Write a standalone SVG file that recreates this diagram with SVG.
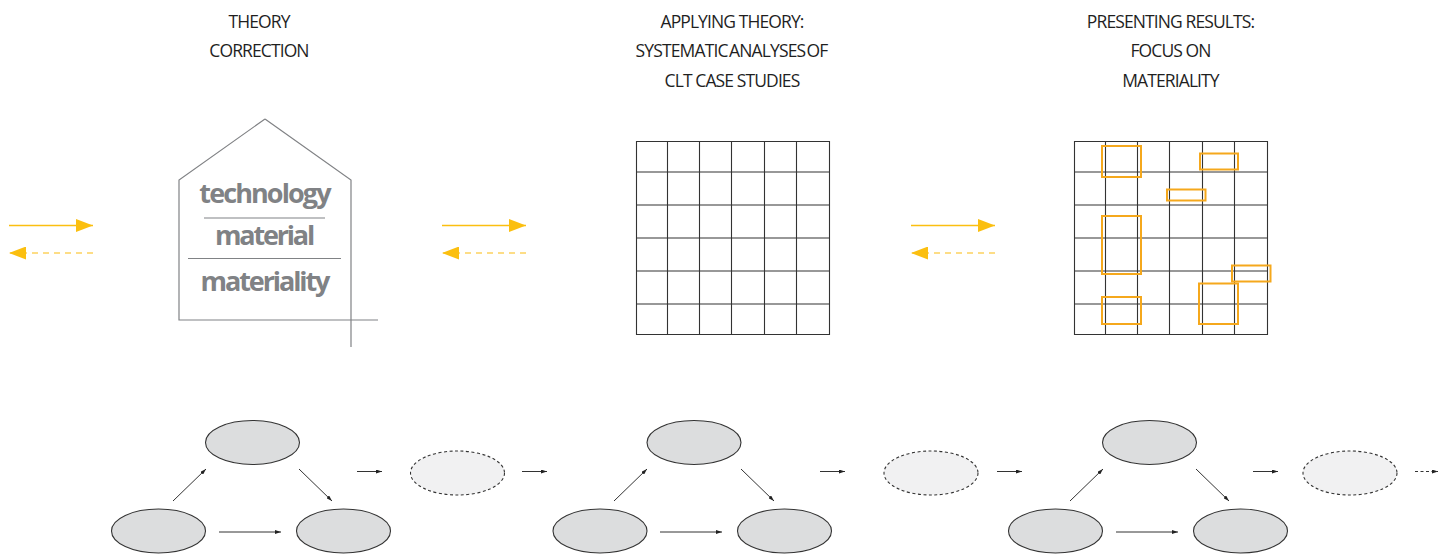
<svg xmlns="http://www.w3.org/2000/svg" width="1448" height="554" viewBox="0 0 1448 554">
<style>
.h{font-family:"Open Sans","Noto Sans",sans-serif;font-size:17.500px;fill:#1f1f1f;text-anchor:middle;letter-spacing:-0.9px}
.w{font-family:"Open Sans","Noto Sans",sans-serif;font-size:27px;font-weight:700;fill:#808285;text-anchor:middle;letter-spacing:-1.9px}
.g{fill:none;stroke:#333;stroke-width:1.1}
.o{fill:none;stroke:#f5a81c;stroke-width:2}
.e{fill:#dcddde;stroke:#333;stroke-width:1.1}
.d{fill:#f1f1f2;stroke:#333;stroke-width:1.1;stroke-dasharray:3 2.5}
.c{fill:none;stroke:#333;stroke-width:1;marker-end:url(#k)}
.y{fill:none;stroke:#fbbf10;stroke-width:1.4;marker-end:url(#a)}
.yd{fill:none;stroke:#fdd25f;stroke-width:1.4;stroke-dasharray:6 5;marker-end:url(#a)}
.hs{fill:none;stroke:#808285;stroke-width:1.2}
</style>
<defs>
<marker id="k" markerUnits="userSpaceOnUse" markerWidth="6" markerHeight="4" refX="6" refY="2" orient="auto"><path d="M0 0L6 2L0 4Z" fill="#222"/></marker>
<marker id="a" markerUnits="userSpaceOnUse" markerWidth="17" markerHeight="13" refX="17" refY="6.5" orient="auto"><path d="M0 0L17 6.5L0 13Z" fill="#fbbf10"/></marker>
<path id="grid" d="M0.5 0V194M31.500 0V194M63.500 0V194M95.500 0V194M128.500 0V194M160.500 0V194M193.500 0V194M0 0.500H194M0 31H194M0 64H194M0 97H194M0 130H194M0 163H194M0 193.500H194"/>
</defs>

<g id="title-1"><text class="h" x="259" y="27.500">THEORY</text><text class="h" x="259" y="56.500">CORRECTION</text></g>
<g id="title-2"><text class="h" x="732" y="27.500">APPLYING THEORY:</text><text class="h" x="731.500" y="56.500" style="word-spacing:-2.400px;letter-spacing:-0.85px">SYSTEMATIC ANALYSES OF</text><text class="h" x="732" y="86.500">CLT CASE STUDIES</text></g>
<g id="title-3"><text class="h" x="1170.500" y="27.500">PRESENTING RESULTS:</text><text class="h" x="1170.500" y="56.500">FOCUS ON</text><text class="h" x="1170.500" y="86.500">MATERIALITY</text></g>

<g id="house">
<path class="hs" d="M265 119L351 180V347M265 119L179 180V320H378"/>
<path class="hs" d="M204 218H325M188 258.500H341"/>
<text class="w" x="264.500" y="203">technology</text>
<text class="w" x="264" y="245" style="letter-spacing:-2.200px">material</text>
<text class="w" x="264.500" y="291" style="letter-spacing:-2.100px">materiality</text>
</g>

<g id="grid-2"><use href="#grid" class="g" x="636" y="141"/></g>
<g id="grid-3"><use href="#grid" class="g" x="1074" y="141"/>
<rect class="o" x="1102" y="146" width="39" height="31"/>
<rect class="o" x="1200" y="153.500" width="38" height="16"/>
<rect class="o" x="1167" y="189.500" width="38.500" height="11"/>
<rect class="o" x="1102" y="216" width="39" height="58"/>
<rect class="o" x="1232" y="265.500" width="38.500" height="16"/>
<rect class="o" x="1199" y="283.500" width="39" height="40.500"/>
<rect class="o" x="1102" y="297" width="39" height="27"/>
</g>

<g id="connectors">
<path class="y" d="M9 225.500H93"/><path class="yd" d="M93 253H9"/>
<path class="y" d="M442 225.500H526"/><path class="yd" d="M526 253H442"/>
<path class="y" d="M911 225.500H995"/><path class="yd" d="M995 253H911"/>
<path class="c" d="M173 501L206 469"/><path class="c" d="M299 469L332 501"/><path class="c" d="M219 532H281"/>
<path class="c" d="M357 471.500H382"/><path class="c" d="M522 471.500H547"/>
<path class="c" d="M614 501L647 469"/><path class="c" d="M741 469L774 501"/><path class="c" d="M660 532H722"/>
<path class="c" d="M820 471.500H845"/><path class="c" d="M997 471.500H1022"/>
<path class="c" d="M1070 501L1103 469"/><path class="c" d="M1196 469L1229 501"/><path class="c" d="M1116 532H1178"/>
<path class="c" d="M1253 471.500H1278"/><path class="c" stroke-dasharray="3 2.500" d="M1415 471.500H1438"/>
</g>

<g id="a1"><ellipse class="e" cx="252.500" cy="442.500" rx="47" ry="22"/></g>
<g id="b1"><ellipse class="e" cx="158.500" cy="531" rx="47" ry="22"/></g>
<g id="c1"><ellipse class="e" cx="343.500" cy="531" rx="47" ry="22"/></g>
<g id="d1"><ellipse class="d" cx="457.500" cy="473" rx="47" ry="22"/></g>
<g id="a2"><ellipse class="e" cx="694" cy="442.500" rx="47" ry="22"/></g>
<g id="b2"><ellipse class="e" cx="600" cy="531" rx="47" ry="22"/></g>
<g id="c2"><ellipse class="e" cx="784.500" cy="531" rx="47" ry="22"/></g>
<g id="d2"><ellipse class="d" cx="931" cy="473" rx="47" ry="22"/></g>
<g id="a3"><ellipse class="e" cx="1149.500" cy="442.500" rx="47" ry="22"/></g>
<g id="b3"><ellipse class="e" cx="1055.500" cy="531" rx="47" ry="22"/></g>
<g id="c3"><ellipse class="e" cx="1240.500" cy="531" rx="47" ry="22"/></g>
<g id="d3"><ellipse class="d" cx="1350" cy="473" rx="47" ry="22"/></g>
</svg>
